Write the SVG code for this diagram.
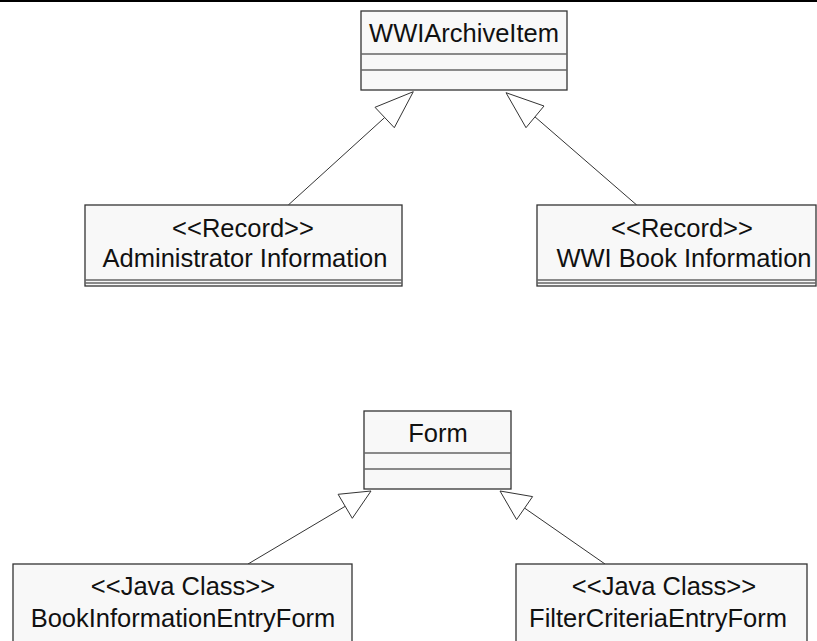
<svg xmlns="http://www.w3.org/2000/svg" width="817" height="641" viewBox="0 0 817 641">
<style>
.box{fill:#f8f8f8;stroke:#333;stroke-width:1.3}
.div{stroke:#666;stroke-width:1.3;fill:none}
.t{font-family:"Liberation Sans",Arial,sans-serif;font-size:25.5px;fill:#111;text-anchor:middle}
.c{stroke:#333;stroke-width:1;fill:none}
.h{stroke:#333;stroke-width:1;fill:#fff}
</style>
<rect x="0" y="0" width="817" height="641" fill="#fff"/>
<rect x="0" y="0" width="817" height="2" fill="#000"/>
<g id="connectors">
<line class="c" x1="288.3" y1="205" x2="384.7" y2="117.5"/>
<polygon class="h" points="413.3,91.7 375,107.3 394.3,127.7"/>
<line class="c" x1="636.7" y1="205" x2="535" y2="116.9"/>
<polygon class="h" points="506,92.7 544,106 526,127.7"/>
<line class="c" x1="248" y1="564" x2="345.2" y2="506.3"/>
<polygon class="h" points="371,491 352.3,518.3 338.1,494.3"/>
<line class="c" x1="605" y1="564" x2="524.6" y2="508.1"/>
<polygon class="h" points="500,491 532.6,496.6 516.6,519.6"/>
</g>
<g id="WWIArchiveItem">
<rect class="box" x="361" y="11" width="206" height="79"/>
<line class="div" x1="361" y1="54" x2="567" y2="54"/>
<line class="div" x1="361" y1="70" x2="567" y2="70"/>
<text class="t" x="464" y="42">WWIArchiveItem</text>
</g>
<g id="AdministratorInformation">
<rect class="box" x="85" y="205" width="317" height="81"/>
<line class="div" x1="85" y1="280" x2="402" y2="280"/>
<line class="div" x1="85" y1="283" x2="402" y2="283"/>
<text class="t" x="243" y="237">&lt;&lt;Record&gt;&gt;</text>
<text class="t" x="245" y="267">Administrator Information</text>
</g>
<g id="WWIBookInformation">
<rect class="box" x="537" y="205" width="279" height="81"/>
<line class="div" x1="537" y1="280" x2="816" y2="280"/>
<line class="div" x1="537" y1="283" x2="816" y2="283"/>
<text class="t" x="682" y="237">&lt;&lt;Record&gt;&gt;</text>
<text class="t" x="684" y="267">WWI Book Information</text>
</g>
<g id="Form">
<rect class="box" x="364" y="411" width="147" height="78"/>
<line class="div" x1="364" y1="453" x2="511" y2="453"/>
<line class="div" x1="364" y1="469" x2="511" y2="469"/>
<text class="t" x="438" y="442">Form</text>
</g>
<g id="BookInformationEntryForm">
<rect class="box" x="13" y="564" width="339" height="90"/>
<text class="t" x="183" y="595">&lt;&lt;Java Class&gt;&gt;</text>
<text class="t" x="183" y="627">BookInformationEntryForm</text>
</g>
<g id="FilterCriteriaEntryForm">
<rect class="box" x="516" y="564" width="291" height="90"/>
<text class="t" x="664" y="595">&lt;&lt;Java Class&gt;&gt;</text>
<text class="t" x="658" y="627">FilterCriteriaEntryForm</text>
</g>
</svg>
